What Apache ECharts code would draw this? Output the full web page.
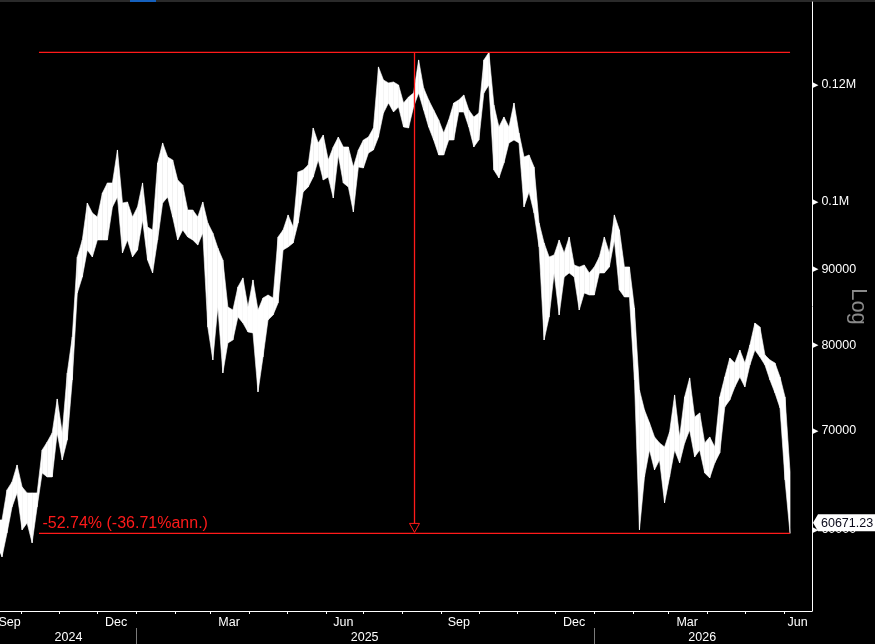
<!DOCTYPE html>
<html>
<head>
<meta charset="utf-8">
<script src="https://cdn.jsdelivr.net/npm/echarts@6/dist/echarts.min.js"></script>
<style>
html,body{margin:0;padding:0;background:#000;}
#chart{width:875px;height:644px;}
</style>
</head>
<body>
<div id="chart"></div>
<script>
// ---------- data (price samples every 4 days, starting 2024-09-12) ----------
const sampleStart = '2024-09-12';
const sampleStepDays = 4;
const highs = [
60930,60930,63850,64650,66380,64150,63550,63550,63550,67950,
68800,69780,73570,69780,76610,81030,91790,94250,99840,98300,
97690,101410,103010,103010,108440,99840,100000,97690,99230,103010,
96180,95730,106260,109630,107260,106760,103490,102690,98760,98760,
97690,100000,96790,95280,93080,91360,84910,84510,87600,88840,
84910,88560,84510,86110,86510,86110,94690,95730,98000,96180,
104790,105110,105930,112220,109630,111000,106760,108950,110650,108950,
108950,105600,108440,110140,110650,112220,123420,120940,120380,120560,
120000,116680,117780,118510,124770,119440,117230,115410,113630,111350,
113630,116680,117230,118140,115410,114160,114870,124770,126250,116320,
112400,114160,112400,116680,111350,107260,107600,105600,96790,93810,
91790,92080,94250,92360,94690,90650,90370,90650,89530,90370,
91790,94690,92360,98000,95730,90370,90370,84770,74610,72320,
70880,69340,68700,68270,69880,74030,69340,73800,76020,71540,
71980,68700,69340,68270,73800,76130,78420,77810,79400,77810,
80020,82810,82300,78790,78180,77810,76130,73800,65670
];
const lows = [
58600,57520,59710,62180,63550,59990,60650,58790,62180,65560,
65150,65150,69780,66900,69020,75780,86780,88970,92790,91790,
94250,94250,94250,99230,100780,92360,94250,91790,92790,97240,
91360,89530,94250,99840,100780,97690,94250,95730,94690,94250,
93520,95280,82300,78180,84910,76610,80270,80650,83590,82810,
81670,81540,74380,78540,83200,83850,85440,92790,93230,93810,
96790,101570,102370,103970,106760,103490,103970,100620,107600,103010,
102370,98450,105600,105440,107930,108440,110650,114870,116680,115050,
115960,112400,112220,115960,118510,115410,112400,110140,107600,107600,
110140,110140,115050,115050,112400,108950,110140,118510,120000,105110,
103810,106260,109630,110140,109630,99230,101570,98300,93230,80650,
83590,89530,83850,88970,89530,88970,84510,86780,86510,86510,
89530,89530,90370,94250,87190,86240,86240,75780,59990,65150,
67950,65870,66900,62570,65150,67950,66590,68700,70100,67210,
67950,65560,65050,66590,67640,72660,73460,74960,76130,74960,
77570,79400,78540,77570,75780,74270,72550,64850,59666
];
const lastClose = 60671.23;

// drawdown annotation
const ddStart = '2024-10-15 11:00';
const ddPeak = 126250;
const ddTrough = 59666;
const ddLabel = '-52.74% (-36.71%ann.)';

// axes
const xMin = '2024-09-14 09:36';
const xMax = '2026-06-23 12:00';
const yMin = 52870;
const yMax = 136560;
const yTickValues = [60000, 70000, 80000, 90000, 100000, 120000];
const monthNames = ['Jan','Feb','Mar','Apr','May','Jun','Jul','Aug','Sep','Oct','Nov','Dec'];
const monthTickDates = ['2024-10-01','2024-11-01','2024-12-01','2025-01-01','2025-02-01','2025-03-01',
  '2025-04-01','2025-05-01','2025-06-01','2025-07-01','2025-08-01','2025-09-01','2025-10-01',
  '2025-11-01','2025-12-01','2026-01-01','2026-02-01','2026-03-01','2026-04-01','2026-05-01','2026-06-01'];
const monthLabelDates = ['2024-09-22','2024-12-16','2025-03-16','2025-06-15','2025-09-15','2025-12-16','2026-03-16','2026-06-12'];
const yearLabelDates = ['2024-11-08','2025-07-02','2026-03-28'];
const yearSepDates = ['2025-01-01','2026-01-01'];

// ---------- helpers ----------
function T(s) {
  const parts = s.split(' ');
  const [y, m, d] = parts[0].split('-').map(Number);
  let h = 0, mi = 0;
  if (parts[1]) { [h, mi] = parts[1].split(':').map(Number); }
  return new Date(y, m - 1, d, h, mi).getTime();
}
const s0 = sampleStart.split('-').map(Number);
const dates = highs.map((_, i) => new Date(s0[0], s0[1] - 1, s0[2] + sampleStepDays * i).getTime());
const ddEnd = dates[dates.length - 1];
const ddStartT = T(ddStart);
const ddMid = (ddStartT + ddEnd) / 2;

const FONT = '"Liberation Sans", Arial, sans-serif';
const RED = '#ff1a1a';

const chart = echarts.init(document.getElementById('chart'), null, {renderer: 'canvas'});

const option = {
  backgroundColor: '#000',
  animation: false,
  graphic: [
    {type: 'rect', shape: {x: 0, y: 0, width: 875, height: 2}, style: {fill: '#2a2a2a'}, silent: true},
    {type: 'rect', shape: {x: 130, y: 0, width: 26, height: 2}, style: {fill: '#1560bd'}, silent: true}
  ],
  grid: {left: 0, right: 63, top: 2, bottom: 33, containLabel: false, outerBoundsMode: 'none'},
  xAxis: [
    {
      type: 'value', min: T(xMin), max: T(xMax), position: 'bottom', scale: true,
      axisLine: {show: true, onZero: false, lineStyle: {color: '#ffffff', width: 1}},
      axisTick: {show: true, customValues: monthTickDates.map(T), length: 3, lineStyle: {color: '#ffffff'}},
      axisLabel: {
        show: true, customValues: monthLabelDates.map(T),
        formatter: v => monthNames[new Date(v).getMonth()],
        color: '#ffffff', fontSize: 12.5, fontFamily: FONT, margin: 5
      },
      splitLine: {show: false}
    },
    {
      type: 'value', min: T(xMin), max: T(xMax), position: 'bottom', offset: 17, scale: true,
      axisLine: {show: false, onZero: false},
      axisTick: {show: true, customValues: yearSepDates.map(T), length: 16, lineStyle: {color: '#7a7a7a'}},
      axisLabel: {
        show: true, customValues: yearLabelDates.map(T),
        formatter: v => String(new Date(v).getFullYear()),
        color: '#ffffff', fontSize: 12.5, fontFamily: FONT, margin: 3
      },
      splitLine: {show: false}
    }
  ],
  yAxis: {
    type: 'log', logBase: 10, position: 'right', min: yMin, max: yMax,
    axisLine: {show: true, lineStyle: {color: '#ffffff', width: 1}},
    axisTick: {show: false},
    minorTick: {show: false},
    splitLine: {show: false},
    axisLabel: {
      show: true, customValues: yTickValues, margin: 1,
      formatter: v => '{t|\u25B6}' + (v >= 100000 ? (v / 1e6) + 'M' : String(v)),
      color: '#ffffff', fontSize: 12.5, fontFamily: FONT,
      rich: {t: {fontSize: 7, color: '#ffffff', fontFamily: 'DejaVu Sans', padding: [0, 3, 0, 0]}}
    },
    name: 'Log', nameLocation: 'middle', nameRotate: -90, nameGap: 35, nameMoveOverlap: false,
    nameTextStyle: {color: '#8a8a8a', fontSize: 22, fontFamily: FONT}
  },
  series: [
    {
      name: 'price', type: 'custom', coordinateSystem: 'cartesian2d', xAxisIndex: 0, yAxisIndex: 0,
      clip: true, silent: true,
      data: dates.map((d, i) => [d, highs[i], lows[i]]),
      encode: {x: 0, y: [1, 2]},
      renderItem(params, api) {
        const i = params.dataIndex;
        if (i >= dates.length - 1) return null;
        const p1 = api.coord([dates[i], highs[i]]);
        const p2 = api.coord([dates[i + 1], highs[i + 1]]);
        const p3 = api.coord([dates[i + 1], lows[i + 1]]);
        const p4 = api.coord([dates[i], lows[i]]);
        return {
          type: 'polygon',
          shape: {points: [p1, p2, p3, p4]},
          style: {fill: '#ffffff', stroke: '#ffffff', lineWidth: 0.6}
        };
      }
    },
    {
      name: 'drawdown', type: 'custom', coordinateSystem: 'cartesian2d', xAxisIndex: 0, yAxisIndex: 0,
      clip: false, silent: true, z: 5,
      data: [[ddStartT, ddPeak]],
      renderItem(params, api) {
        const a = api.coord([ddStartT, ddPeak]);
        const b = api.coord([ddEnd, ddPeak]);
        const c = api.coord([ddStartT, ddTrough]);
        const d = api.coord([ddEnd, ddTrough]);
        const m = api.coord([ddMid, ddPeak]);
        const mt = api.coord([ddMid, ddTrough]);
        const lc = api.coord([ddEnd, lastClose]);
        const cs = params.coordSys;
        const x0 = cs.x + cs.width + 1;
        const ty = lc[1];
        return {
          type: 'group',
          children: [
            {type: 'line', shape: {x1: a[0], y1: a[1], x2: b[0], y2: b[1]}, style: {stroke: RED, lineWidth: 1.3}},
            {type: 'line', shape: {x1: c[0], y1: c[1], x2: d[0], y2: d[1]}, style: {stroke: RED, lineWidth: 1.3}},
            {type: 'line', shape: {x1: m[0], y1: m[1], x2: mt[0], y2: mt[1] - 10}, style: {stroke: RED, lineWidth: 1.3}},
            {type: 'polygon', shape: {points: [[mt[0] - 5, mt[1] - 10], [mt[0] + 5, mt[1] - 10], [mt[0], mt[1] - 1]]},
              style: {fill: '#000', stroke: RED, lineWidth: 1}},
            {type: 'text', x: c[0] + 3.5, y: c[1] - 2,
              style: {text: ddLabel, fill: RED, font: '16px ' + FONT, align: 'left', verticalAlign: 'bottom'}},
            {type: 'polygon', shape: {points: [[x0, ty], [x0 + 5, ty - 8.5], [x0 + 63, ty - 8.5], [x0 + 63, ty + 8.5], [x0 + 5, ty + 8.5]]},
              style: {fill: '#ffffff'}},
            {type: 'text', x: x0 + 8, y: ty + 0.5,
              style: {text: lastClose.toFixed(2), fill: '#0a0a1a', font: '12.5px ' + FONT, align: 'left', verticalAlign: 'middle'}}
          ]
        };
      }
    }
  ]
};
chart.setOption(option);
</script>
</body>
</html>
